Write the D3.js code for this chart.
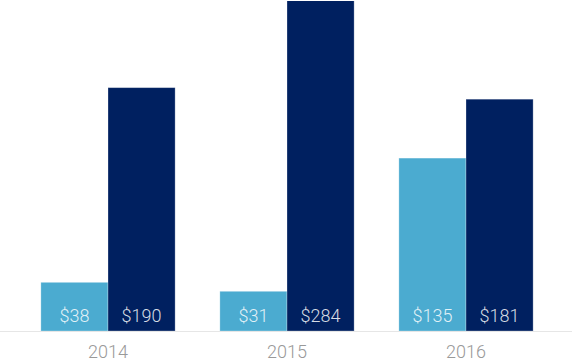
<!DOCTYPE html>
<meta charset="utf-8">
<style>
    body { margin: 0; background: #fff; }
    text { font-family: Roboto, sans-serif; font-weight: 300; }
</style>
<body>
<script src="https://cdn.jsdelivr.net/npm/d3@7/dist/d3.min.js"></script>
<script>
    var years = ["2014", "2015", "2016"];
    var lightValues = [38, 31, 135];
    var darkValues = [190, 284, 181];
    var seriesColors = ["#4babd0", "#002060"];

    var width = 572, height = 364;
    var baseline = 331;

    var svg = d3.select("body").append("svg")
        .attr("width", width)
        .attr("height", height);

    // top of the tallest bar is cut off by the chart area
    svg.append("clipPath").attr("id", "plot")
        .append("rect").attr("x", 0).attr("y", 1).attr("width", width).attr("height", baseline - 1);

    var x = d3.scaleBand().domain(years).range([18.5, 555.5])
        .paddingInner(0.25).paddingOuter(0.125);
    var sub = d3.scaleBand().domain([0, 1]).range([0, x.bandwidth()]);
    var y = d3.scaleLinear().domain([0, 260]).range([baseline, -2]);

    var rows = [];
    years.forEach(function(yr, i) {
        rows.push({ year: yr, s: 0, v: lightValues[i] });
        rows.push({ year: yr, s: 1, v: darkValues[i] });
    });

    var g = svg.append("g").attr("clip-path", "url(#plot)");

    g.selectAll(".bar").data(rows).enter().append("rect")
        .attr("class", "bar")
        .attr("x", function(d) { return x(d.year) + sub(d.s); })
        .attr("y", function(d) { return y(d.v); })
        .attr("width", sub.bandwidth())
        .attr("height", function(d) { return baseline - y(d.v); })
        .attr("fill", function(d) { return seriesColors[d.s]; })
        .attr("stroke", "rgba(255,255,255,0.35)")
        .attr("stroke-width", 0.8);

    svg.selectAll(".val").data(rows).enter().append("text")
        .attr("class", "val")
        .attr("x", function(d) { return x(d.year) + sub(d.s) + sub.bandwidth() / 2; })
        .attr("y", 322)
        .attr("text-anchor", "middle")
        .attr("font-size", 18)
        .attr("fill", "#fff")
        .attr("fill-opacity", 0.85)
        .text(function(d) { return "$" + d.v; });

    // axis line
    svg.append("line")
        .attr("x1", 0).attr("x2", width)
        .attr("y1", baseline + 0.5).attr("y2", baseline + 0.5)
        .attr("stroke", "#e6e6e6");

    var xAxis = svg.append("g")
        .attr("transform", "translate(0," + baseline + ")")
        .call(d3.axisBottom(x).tickSize(0).tickPadding(14));
    xAxis.select(".domain").remove();
    xAxis.selectAll("text")
        .attr("font-size", 18)
        .attr("font-family", "Roboto, sans-serif")
        .attr("font-weight", 300)
        .attr("fill", "#999");
</script>
</body>
</html>
